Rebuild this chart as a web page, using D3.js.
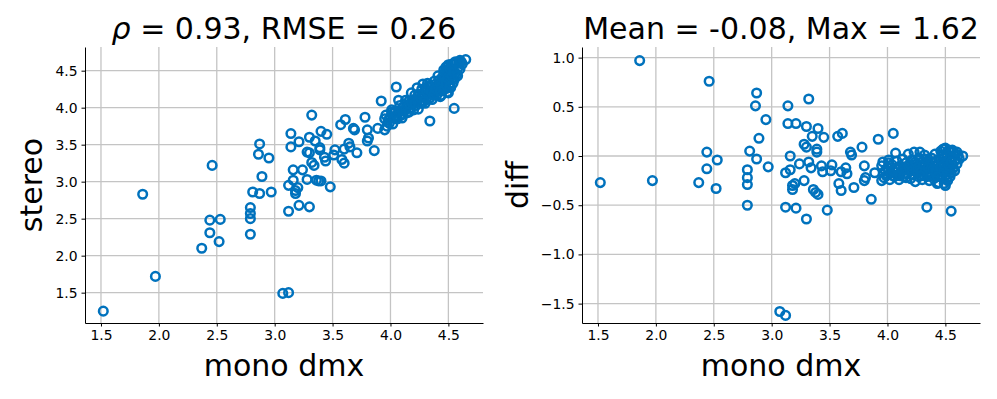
<!DOCTYPE html>
<html>
<head>
<meta charset="utf-8">
<script src="https://d3js.org/d3.v7.min.js"></script>
<style>
  body { margin: 0; background: #fff; }
  text { font-family: "DejaVu Sans", sans-serif; fill: #000; }
</style>
</head>
<body>
<svg id="chart" width="997" height="399"></svg>
<script>
// mono dmx score per item (x of both panels)
var mono = [
    1.52, 1.86, 1.97, 2.37, 2.44, 2.44, 2.46, 2.53, 2.52, 2.79,
    2.79, 2.79, 2.79, 2.81, 2.87, 2.86, 2.89, 2.87, 2.95, 2.97,
    3.07, 3.12, 3.12, 3.12, 3.14, 3.14, 3.16, 3.16, 3.18, 3.18,
    3.20, 3.21, 3.21, 3.24, 3.28, 3.28, 3.30, 3.30, 3.32, 3.30,
    3.32, 3.35, 3.36, 3.38, 3.40, 3.39, 3.39, 3.40, 3.43, 3.44,
    3.45, 3.48, 3.52, 3.51, 3.57, 3.58, 3.60, 3.61, 3.60, 3.64,
    3.65, 3.68, 3.69, 3.71, 3.78, 3.80, 3.80, 3.81, 3.86, 3.89,
    3.92, 3.95, 3.95, 3.97, 4.05, 4.07, 4.01, 4.05, 4.34, 4.55,
    4.65, 4.50, 4.43, 3.34,
    // dense cluster
    3.96, 3.98, 3.99, 4.00, 4.01, 4.02, 4.03, 4.04, 4.06, 4.07, 4.08, 4.09, 4.10,
    4.11, 4.12, 4.13, 4.14, 4.15, 4.16, 4.17, 4.18, 4.19, 4.20, 4.20, 4.21, 4.22,
    4.23, 4.23, 4.24, 4.25, 4.26, 4.27, 4.27, 4.28, 4.28, 4.29, 4.30, 4.30,
    4.31, 4.32, 4.32, 4.33, 4.34, 4.34, 4.35, 4.36, 4.36, 4.37, 4.38, 4.38, 4.39,
    4.40, 4.40, 4.41, 4.41, 4.42, 4.42, 4.43, 4.44, 4.44, 4.45, 4.45, 4.45,
    4.46, 4.46, 4.47, 4.47, 4.48, 4.48, 4.49, 4.49, 4.50, 4.50, 4.51, 4.51, 4.52,
    4.52, 4.53, 4.53, 4.54, 4.54, 4.55, 4.55, 4.56, 4.57, 4.57, 4.58, 4.59, 4.60,
    4.61, 4.62,
    4.02, 4.05, 4.08, 4.11, 4.13, 4.16, 4.18, 4.21, 4.24, 4.26, 4.29, 4.31, 4.33,
    4.35, 4.37, 4.39, 4.43, 4.47, 4.49, 4.51, 4.53, 4.55, 4.56, 4.58, 4.60
];

// stereo score per item (y of left panel)
var stereo = [
    1.25, 2.83, 1.72, 2.10, 2.48, 2.31, 3.22, 2.49, 2.19, 2.65,
    2.57, 2.50, 2.29, 2.86, 3.51, 3.37, 3.07, 2.84, 3.32, 2.86,
    1.49, 1.50, 2.60, 2.95, 3.65, 3.47, 3.16, 3.02, 2.88, 2.84,
    2.92, 3.54, 2.68, 3.16, 3.03, 3.40, 3.60, 2.66, 3.90, 3.39,
    3.26, 3.55, 3.02, 3.01, 3.01, 3.43, 3.46, 3.68, 3.33, 3.28,
    3.64, 2.93, 3.43, 3.36, 3.77, 3.30, 3.25, 3.84, 3.44, 3.52,
    3.47, 3.72, 3.70, 3.39, 3.87, 3.70, 3.55, 3.59, 3.42, 3.72,
    4.09, 3.85, 3.70, 3.75, 4.28, 4.10, 3.94, 3.85, 3.82, 3.99,
    4.65, 4.20, 4.15, 3.22,
    3.90, 3.83, 3.79, 3.88, 3.97, 3.78, 3.86, 3.95, 3.85, 3.94, 4.03, 3.90, 3.86,
    4.01, 3.96, 4.10, 3.93, 4.03, 4.09, 3.99, 4.20, 4.05, 3.97, 4.11, 4.17, 4.03,
    4.27, 4.10, 3.98, 4.17, 4.09, 4.25, 4.06, 4.32, 4.17, 4.14, 4.24, 4.06,
    4.12, 4.22, 4.33, 4.19, 4.13, 4.29, 4.18, 4.28, 4.11, 4.25, 4.36, 4.19, 4.32,
    4.25, 4.17, 4.31, 4.43, 4.24, 4.37, 4.30, 4.17, 4.35, 4.25, 4.42, 4.30,
    4.51, 4.35, 4.25, 4.41, 4.55, 4.32, 4.21, 4.47, 4.58, 4.38, 4.32, 4.54, 4.45,
    4.27, 4.59, 4.39, 4.51, 4.33, 4.59, 4.38, 4.47, 4.61, 4.45, 4.53, 4.61, 4.52,
    4.62, 4.59,
    3.92, 3.90, 3.96, 3.91, 3.99, 3.94, 4.08, 4.06, 4.18, 4.14, 4.09, 4.22, 4.30,
    4.23, 4.17, 4.25, 4.22, 4.48, 4.40, 4.28, 4.43, 4.49, 4.62, 4.43, 4.64
];

// stereo - mono per item (y of right panel)
var diff = [
    -0.27, 0.97, -0.25, -0.27, 0.04, -0.13, 0.76, -0.04, -0.33, -0.14,
    -0.22, -0.29, -0.50, 0.05, 0.64, 0.51, 0.18, -0.03, 0.37, -0.11,
    -1.58, -1.62, -0.52, -0.17, 0.51, 0.33, 0.00, -0.14, -0.30, -0.34,
    -0.28, 0.33, -0.53, -0.08, -0.25, 0.12, 0.30, -0.64, 0.58, 0.09,
    -0.06, 0.20, -0.34, -0.37, -0.39, 0.04, 0.07, 0.28, -0.10, -0.16,
    0.19, -0.55, -0.09, -0.15, 0.20, -0.28, -0.35, 0.23, -0.16, -0.12,
    -0.18, 0.04, 0.01, -0.32, 0.09, -0.10, -0.25, -0.22, -0.44, -0.17,
    0.17, -0.10, -0.25, -0.22, 0.23, 0.03, -0.07, -0.20, -0.52, -0.56,
    0.00, -0.30, -0.28, -0.12,
    -0.06, -0.15, -0.20, -0.12, -0.04, -0.24, -0.17, -0.09, -0.21, -0.13, -0.05, -0.19, -0.24,
    -0.10, -0.16, -0.03, -0.21, -0.12, -0.07, -0.18, 0.02, -0.14, -0.23, -0.09, -0.04, -0.19,
    0.04, -0.13, -0.26, -0.08, -0.17, -0.02, -0.21, 0.04, -0.11, -0.15, -0.06, -0.24,
    -0.19, -0.10, 0.01, -0.14, -0.21, -0.05, -0.17, -0.08, -0.25, -0.12, -0.02, -0.19, -0.07,
    -0.15, -0.23, -0.10, 0.02, -0.18, -0.05, -0.13, -0.27, -0.09, -0.20, -0.03, -0.15,
    0.05, -0.11, -0.22, -0.06, 0.07, -0.16, -0.28, -0.02, 0.08, -0.12, -0.19, 0.03, -0.07,
    -0.25, 0.06, -0.14, -0.03, -0.21, 0.04, -0.17, -0.09, 0.04, -0.12, -0.05, 0.02, -0.08,
    0.01, -0.03,
    -0.10, -0.15, -0.12, -0.20, -0.14, -0.22, -0.10, -0.15, -0.06, -0.12, -0.20, -0.09, -0.03,
    -0.12, -0.20, -0.14, -0.21, 0.01, -0.09, -0.23, -0.10, -0.06, 0.06, -0.15, 0.04
];

// tick values
var xTicks = [1.5, 2.0, 2.5, 3.0, 3.5, 4.0, 4.5];
var stereoTicks = [1.5, 2.0, 2.5, 3.0, 3.5, 4.0, 4.5];
var diffTicks = [-1.5, -1.0, -0.5, 0.0, 0.5, 1.0];

var MARKER_COLOR = '#0072bd';
var GRID_COLOR = '#c4c4c4';

function fmt(d) {
    return d3.format('.1f')(d).replace('-', '\u2212');
}

function ScatterPanel(svg, opts) {
    var g = svg.append('g')
        .attr('transform', 'translate(' + opts.left + ',' + opts.top + ')');
    var w = opts.width, h = opts.height;

    var x = d3.scaleLinear().domain(opts.xDomain).range([0, w]);
    var y = d3.scaleLinear().domain(opts.yDomain).range([h, 0]);

    // grid
    g.append('g').selectAll('line.gx')
        .data(xTicks).enter().append('line')
        .attr('x1', function(d) { return x(d); })
        .attr('x2', function(d) { return x(d); })
        .attr('y1', 0).attr('y2', h)
        .style('stroke', GRID_COLOR).style('stroke-width', 1.3);
    g.append('g').selectAll('line.gy')
        .data(opts.yTicks).enter().append('line')
        .attr('x1', 0).attr('x2', w)
        .attr('y1', function(d) { return y(d); })
        .attr('y2', function(d) { return y(d); })
        .style('stroke', GRID_COLOR).style('stroke-width', 1.3);

    // points
    g.append('g').selectAll('circle')
        .data(opts.xs).enter().append('circle')
        .attr('cx', function(d) { return x(d); })
        .attr('cy', function(d, i) { return y(opts.ys[i]); })
        .attr('r', 4.3)
        .style('fill', 'none')
        .style('stroke', MARKER_COLOR)
        .style('stroke-width', 2.5);

    // axes (left + bottom spines only)
    var xAxis = d3.axisBottom(x).tickValues(xTicks).tickFormat(fmt)
        .tickSize(3.5).tickSizeOuter(0).tickPadding(4);
    var yAxis = d3.axisLeft(y).tickValues(opts.yTicks).tickFormat(fmt)
        .tickSize(3.5).tickSizeOuter(0).tickPadding(4);
    [g.append('g').attr('transform', 'translate(0,' + h + ')').call(xAxis),
     g.append('g').call(yAxis)].forEach(function(a) {
        a.selectAll('path, line').style('stroke', '#000').style('stroke-width', 1);
        a.selectAll('text').style('font-size', '13.9px')
            .style('font-family', '"DejaVu Sans", sans-serif').style('fill', '#000');
    });

    // labels
    g.append('text')
        .attr('x', w / 2).attr('y', h + 53)
        .attr('text-anchor', 'middle')
        .style('font-size', '30px')
        .text(opts.xLabel);
    g.append('text')
        .attr('transform', 'translate(' + opts.yLabelX + ',' + h / 2 + ') rotate(-90)')
        .attr('text-anchor', 'middle')
        .style('font-size', '30px')
        .text(opts.yLabel);

    var title = g.append('text')
        .attr('x', w / 2).attr('y', -8)
        .attr('text-anchor', 'middle')
        .style('font-size', '30px');
    opts.title.forEach(function(p) {
        title.append('tspan')
            .style('font-style', p.italic ? 'italic' : 'normal')
            .text(p.text);
    });
    return this;
}

var svg = d3.select('#chart');

new ScatterPanel(svg, {
    left: 85, top: 47, width: 398, height: 276,
    xDomain: [1.362, 4.799], yDomain: [1.090, 4.820],
    xs: mono, ys: stereo, yTicks: stereoTicks,
    xLabel: 'mono dmx', yLabel: 'stereo', yLabelX: -43,
    title: [{ text: '\u03c1', italic: true }, { text: ' = 0.93, RMSE = 0.26' }]
});

new ScatterPanel(svg, {
    left: 582, top: 47, width: 398, height: 276,
    xDomain: [1.362, 4.799], yDomain: [-1.697, 1.108],
    xs: mono, ys: diff, yTicks: diffTicks,
    xLabel: 'mono dmx', yLabel: 'diff', yLabelX: -54,
    title: [{ text: 'Mean = -0.08, Max = 1.62' }]
});
</script>
</body>
</html>
